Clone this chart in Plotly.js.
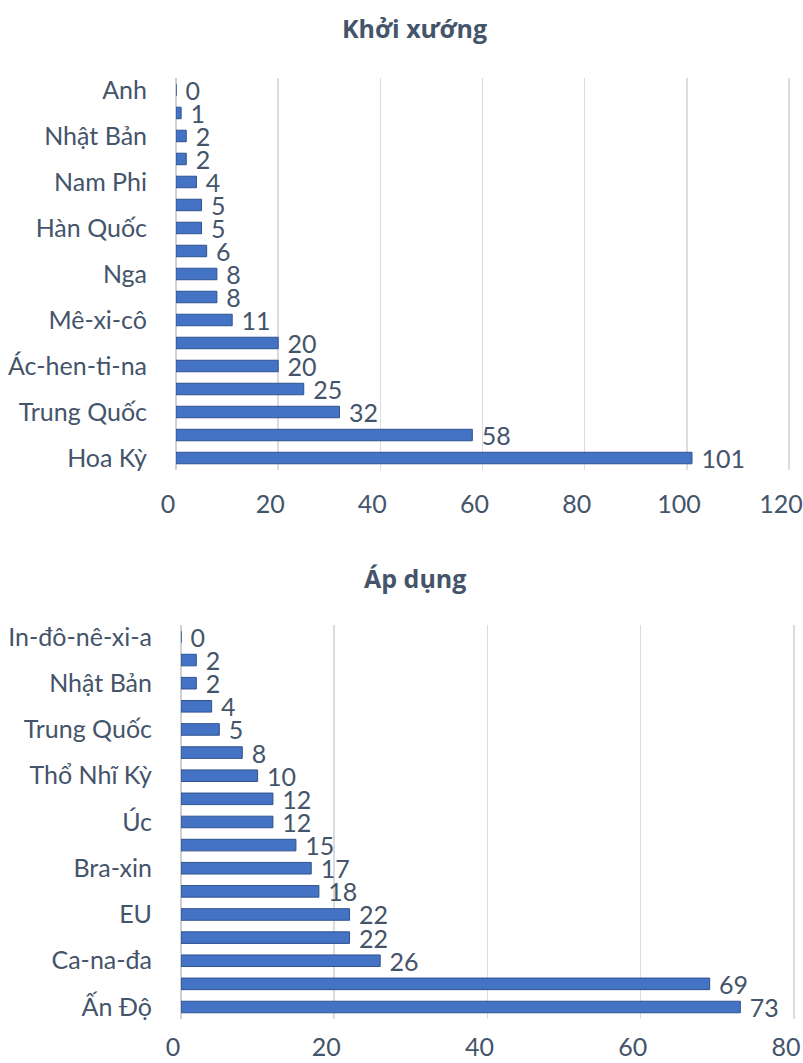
<!DOCTYPE html>
<html>
<head>
<meta charset="utf-8">
<script src="https://cdn.plot.ly/plotly-3.0.1.min.js"></script>
<style>html,body{margin:0;padding:0;background:#fff;}#chart{width:803px;height:1063px;}</style>
</head>
<body>
<div id="chart"></div>
<script>
// Top chart: "Khởi xướng" (top-to-bottom order)
const khoiXuongValues = [0, 1, 2, 2, 4, 5, 5, 6, 8, 8, 11, 20, 20, 25, 32, 58, 101];
const khoiXuongTickLabels = ["Anh", "Nhật Bản", "Nam Phi", "Hàn Quốc", "Nga", "Mê-xi-cô", "Ác-hen-ti-na", "Trung Quốc", "Hoa Kỳ"];
// Bottom chart: "Áp dụng" (top-to-bottom order)
const apDungValues = [0, 2, 2, 4, 5, 8, 10, 12, 12, 15, 17, 18, 22, 22, 26, 69, 73];
const apDungTickLabels = ["In-đô-nê-xi-a", "Nhật Bản", "Trung Quốc", "Thổ Nhĩ Kỳ", "Úc", "Bra-xin", "EU", "Ca-na-đa", "Ấn Độ"];
const xTicksTop = [0, 20, 40, 60, 80, 100, 120];
const xTicksBottom = [0, 20, 40, 60, 80];

const textColor = "#44546A";
const barColor = "#4472C4";
const fontFamily = "Lato, 'Open Sans', sans-serif";
const titleFamily = "'Open Sans', Lato, sans-serif";

const idxTop = khoiXuongValues.map((_, i) => i);
const idxBot = apDungValues.map((_, i) => i);
const tickIdxTop = khoiXuongTickLabels.map((_, i) => i * 2);
const tickIdxBot = apDungTickLabels.map((_, i) => i * 2);

const labelFont = {family: fontFamily, size: 25, color: textColor};

function barTrace(values, idx, xa, ya) {
  return {
    type: "bar", orientation: "h",
    x: values, y: idx,
    xaxis: xa, yaxis: ya,
    marker: {color: barColor, line: {color: "#2F528F", width: 1}},
    text: values.map(v => "\u00A0" + v),
    textposition: "outside",
    constraintext: "none",
    textfont: labelFont,
    cliponaxis: false,
    hoverinfo: "none"
  };
}

const traces = [
  barTrace(khoiXuongValues, idxTop, "x", "y"),
  barTrace(apDungValues, idxBot, "x2", "y2")
];

const axisFont = {family: fontFamily, size: 25, color: textColor};

const layout = {
  width: 803, height: 1063,
  margin: {l: 0, r: 0, t: 0, b: 0},
  paper_bgcolor: "#fff", plot_bgcolor: "#fff",
  showlegend: false,
  bargap: 0.5,
  font: {family: fontFamily, color: textColor},
  xaxis: {
    domain: [0.2192, 0.9890], anchor: "y",
    range: [0, 121], tickvals: xTicksTop, ticktext: xTicksTop.map(String),
    showgrid: true, gridcolor: "#DADCE0", gridwidth: 1.5,
    zeroline: true, zerolinecolor: "#D0D0D0", zerolinewidth: 1.5,
    showline: false, ticks: "", ticklabelstandoff: 17, ticklabelshift: -8,
    ticklabeloverflow: "allow",
    tickfont: axisFont, fixedrange: true
  },
  yaxis: {
    domain: [0.5583, 0.9262], anchor: "x",
    range: [16.5, -0.5],
    tickvals: tickIdxTop, ticktext: khoiXuongTickLabels,
    showgrid: false, zeroline: false, showline: false, ticks: "",
    ticklabelstandoff: 28,
    tickfont: axisFont, fixedrange: true
  },
  xaxis2: {
    domain: [0.2254, 0.9935], anchor: "y2",
    range: [0, 80.5], tickvals: xTicksBottom, ticktext: xTicksBottom.map(String),
    showgrid: true, gridcolor: "#DADCE0", gridwidth: 1.5,
    zeroline: true, zerolinecolor: "#D0D0D0", zerolinewidth: 1.5,
    showline: false, ticks: "", ticklabelstandoff: 11, ticklabelshift: -8,
    ticklabeloverflow: "allow",
    tickfont: axisFont, fixedrange: true
  },
  yaxis2: {
    domain: [0.0418, 0.4117], anchor: "x2",
    range: [16.5, -0.5],
    tickvals: tickIdxBot, ticktext: apDungTickLabels,
    showgrid: false, zeroline: false, showline: false, ticks: "",
    ticklabelstandoff: 28,
    tickfont: axisFont, fixedrange: true
  },
  annotations: [
    {text: "<b>Khởi xướng</b>", xref: "paper", yref: "paper", x: 415/803, y: 1 - 28/1063,
     xanchor: "center", yanchor: "middle", showarrow: false,
     font: {family: titleFamily, size: 25, color: textColor}},
    {text: "<b>Áp dụng</b>", xref: "paper", yref: "paper", x: 415/803, y: 1 - 578/1063,
     xanchor: "center", yanchor: "middle", showarrow: false,
     font: {family: titleFamily, size: 25, color: textColor}}
  ]
};

Plotly.newPlot("chart", traces, layout, {displayModeBar: false, staticPlot: true});
</script>
</body>
</html>
